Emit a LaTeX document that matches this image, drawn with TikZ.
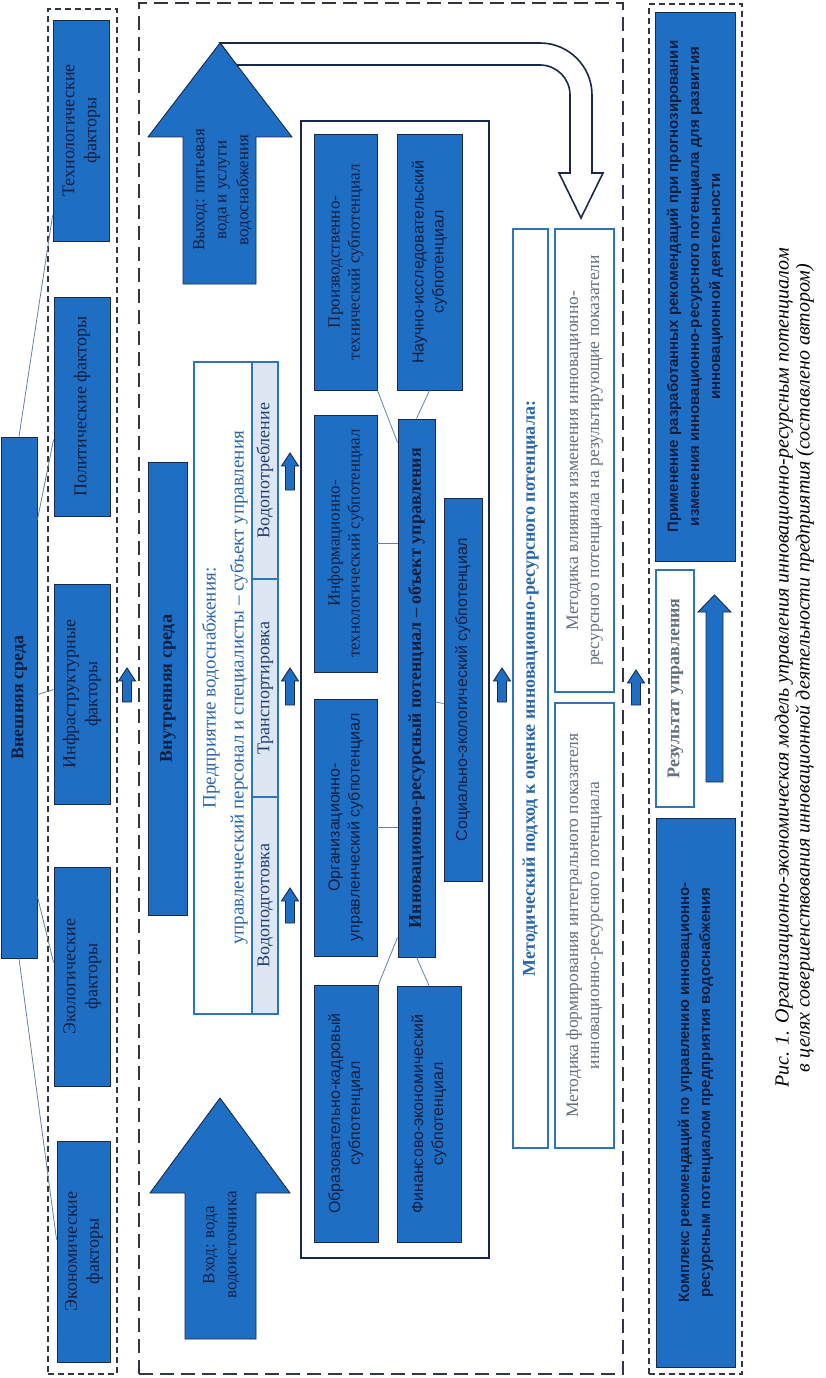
\documentclass[tikz,border=0pt]{standalone}
\usepackage{fontspec}
\setmainfont{Liberation Serif}
\setsansfont{Liberation Sans}
\usepackage{graphicx}
\definecolor{bfill}{RGB}{30,111,196}
\definecolor{navy}{RGB}{26,40,76}
\definecolor{tnavy}{RGB}{16,30,64}
\definecolor{lblue}{RGB}{221,231,243}
\definecolor{bline}{RGB}{46,117,182}
\definecolor{btext}{RGB}{42,102,172}
\definecolor{gtext}{RGB}{100,112,128}
\definecolor{ctext}{RGB}{36,62,112}
\definecolor{cline}{RGB}{105,128,158}
\definecolor{dgray}{RGB}{48,54,66}
\newcommand{\R}[1]{\rotatebox{90}{\begin{tabular}{@{}c@{}}#1\end{tabular}}}
\newcommand{\fs}[2]{\fontsize{#1}{#2}\selectfont}
% \bx[style]{name}{x1}{y1}{x2}{y2}{text}
\newcommand{\bx}[7][]{\node[#1, minimum width={#5-#3}, minimum height={#6-#4}] (#2) at ({(#3+#5)/2},{(#4+#6)/2}) {#7};}
\tikzset{
  bbox/.style={inner sep=0pt, draw=navy, line width=0.9pt, fill=bfill, text=tnavy},
  wbox/.style={inner sep=0pt, draw=bline, line width=1.8pt, fill=white},
  cellbox/.style={inner sep=0pt, draw=bline, line width=1.2pt, fill=lblue, text=ctext, font=\fs{18}{22}},
  ser/.style={font=\fs{18}{22}},
  serb/.style={font=\bfseries\fs{18}{22}},
  sub/.style={font=\fs{17}{20}},
  subs/.style={font=\sffamily\fs{16}{20}},
  rsb/.style={font=\sffamily\bfseries\fs{15}{21}},
  meth/.style={font=\fs{17.5}{21}},
  conn/.style={draw=cline, line width=0.8pt},
  barrow/.style={fill=bfill, draw=navy, line width=0.9pt},
  uarrow/.style={fill=white, draw=navy, line width=1.6pt},
  dsmall/.style={inner sep=0pt, draw=dgray, line width=1.6pt, dash pattern=on 6pt off 4pt},
  dlarge/.style={inner sep=0pt, draw=dgray, line width=1.5pt, dash pattern=on 14pt off 7pt},
}
\newcommand{\sarr}[3]{\draw[barrow] (#1-4.5,#3) -- (#1-4.5,#2+13) -- (#1-8.5,#2+13) -- (#1,#2) -- (#1+8.5,#2+13) -- (#1+4.5,#2+13) -- (#1+4.5,#3) -- cycle;}
\begin{document}
\begin{tikzpicture}[x=1pt,y=-1pt]
\useasboundingbox (0,0) rectangle (826,1378);
% dashed containers
\bx[dsmall]{lbox}{48}{9}{117}{1374}{}
\bx[dlarge]{mbox}{139}{3}{623}{1374}{}
\bx[dsmall]{rbox}{649}{4}{742}{1374}{}
% external environment
\bx[bbox, ser]{f1}{53}{20}{109}{241}{\R{Технологические\\факторы}}
\bx[bbox, ser]{f2}{54}{297}{110}{516}{\R{Политические факторы}}
\bx[bbox, ser]{f3}{54}{584}{110}{804}{\R{Инфраструктурные\\факторы}}
\bx[bbox, ser]{f4}{54}{867}{110}{1086}{\R{Экологические\\факторы}}
\bx[bbox, ser]{f5}{57}{1141}{110}{1362}{\R{Экономические\\факторы}}
\bx[bbox, serb]{ext}{1}{437}{37}{958}{\R{Внешняя среда}}
\draw[conn] (ext.north) -- ([yshift=26pt]f1.south west);
\draw[conn] ([yshift=-83pt]ext.north east) -- ([yshift=-143pt]f2.north west);
\draw[conn] ([yshift=-258pt]ext.north east) -- ([yshift=-106pt]f3.north west);
\draw[conn] ([yshift=-460pt]ext.north east) -- ([yshift=-96pt]f4.north west);
\draw[conn] (ext.south) -- ([yshift=-99pt]f5.north west);
% U-turn arrow and big arrows
\draw[uarrow] (220,43) -- (540,43) .. controls (568.7,43) and (592,66.3) .. (592,95) -- (592,173) -- (603,173) -- (581,218) -- (559,173) -- (570,173) -- (570,95) .. controls (570,78.4) and (556.6,65) .. (540,65) -- (236,65) -- cycle;
\draw[barrow] (183,284) -- (183,137) -- (148,137) -- (220,43) -- (292,137) -- (256,137) -- (256,284) -- cycle;
\node[text=tnavy, font=\fs{17}{22}] (outp) at (222,190) {\R{Выход: питьевая\\вода и услуги\\водоснабжения}};
\draw[barrow] (185,1339) -- (185,1193) -- (150,1193) -- (220,1098) -- (290,1193) -- (256,1193) -- (256,1339) -- cycle;
\node[text=tnavy, font=\fs{17}{22}] (inpt) at (221,1245) {\R{Вход: вода\\водоисточника}};
\bx[bbox, serb]{ins}{148}{462}{187}{915}{\R{Внутренняя среда}}
% enterprise
\bx[wbox]{ent}{194}{362}{278}{1014}{}
\bx[cellbox]{c1}{252}{797}{278}{1014}{\R{Водоподготовка}}
\bx[cellbox]{c2}{252}{579}{278}{797}{\R{Транспортировка}}
\bx[cellbox]{c3}{252}{362}{278}{579}{\R{Водопотребление}}
\node[text=btext, font=\fs{19}{28}] (entt) at (224,688) {\R{Предприятие водоснабжения:\\управленческий персонал и специалисты – субъект управления}};
% small arrows
\sarr{127}{668}{702}
\sarr{290}{453}{490}
\sarr{290}{668}{705}
\sarr{290}{888}{923}
\sarr{502}{668}{702}
\sarr{636}{670}{705}
% inner potential block
\bx[inner sep=0pt, draw=navy, line width=2pt]{inner}{301}{121}{489}{1258}{}
\bx[bbox, sub]{p1}{314}{134}{377}{390}{\R{Производственно-\\технический субпотенциал}}
\bx[bbox, subs]{p2}{397}{134}{462}{390}{\R{Научно-исследовательский\\субпотенциал}}
\bx[bbox, sub]{p3}{314}{415}{377}{672}{\R{Информационно-\\технологический субпотенциал}}
\bx[bbox, subs]{p4}{314}{699}{377}{956}{\R{Организационно-\\управленческий субпотенциал}}
\bx[bbox, subs]{p5}{314}{985}{378}{1242}{\R{Образовательно-кадровый\\субпотенциал}}
\bx[bbox, subs]{p6}{397}{986}{461}{1242}{\R{Финансово-экономический\\субпотенциал}}
\bx[bbox, serb]{core}{398}{419}{435}{957}{\R{Инновационно-ресурсный потенциал – объект управления}}
\bx[bbox, subs]{p7}{444}{498}{482}{881}{\R{Социально-экологический субпотенциал}}
\draw[conn] (p1.south east) -- ([yshift=-24pt]core.north west);
\draw[conn] (p2.south) -- (core.north);
\draw[conn] (p3.east) -- (p3.east -| core.west);
\draw[conn] (p4.east) -- (p4.east -| core.west);
\draw[conn] ([yshift=20pt]core.south west) -- (p5.north east);
\draw[conn] (core.south) -- (p6.north);
\draw[conn] ([yshift=-14pt]p7.west) -- ([yshift=-14pt]core.east);
% methods
\bx[wbox, text=btext, serb]{meth}{513}{229}{548}{1148}{\R{Методический подход к оценке инновационно-ресурсного потенциала:}}
\bx[wbox, line width=2.2pt, text=gtext, meth]{m1}{555}{229}{614}{692}{\R{Методика влияния изменения инновационно-\\ресурсного потенциала на результирующие показатели}}
\bx[wbox, line width=2.2pt, text=gtext, meth]{m2}{555}{703}{614}{1148}{\R{Методика формирования интегрального показателя\\инновационно-ресурсного потенциала}}
% results
\bx[bbox, rsb]{r1}{655}{12}{735}{561}{\R{Применение разработанных рекомендаций при прогнозировании\\изменения инновационно-ресурсного потенциала для развития\\инновационной деятельности}}
\bx[wbox, text=gtext, serb]{res}{656}{570}{694}{807}{\R{Результат управления}}
\draw[barrow] (706,782) -- (706,612) -- (698,612) -- (714.5,595) -- (731,612) -- (723,612) -- (723,782) -- cycle;
\bx[bbox, rsb]{r4}{656}{818}{735}{1367}{\R{Комплекс рекомендаций по управлению инновационно-\\ресурсным потенциалом предприятия водоснабжения}}
% caption
\node[font=\itshape\fs{20}{21}] (cap) at (795,668) {\R{Рис. 1. Организационно-экономическая модель управления инновационно-ресурсным потенциалом\\в целях совершенствования инновационной деятельности предприятия (составлено автором)}};
\end{tikzpicture}
\end{document}
